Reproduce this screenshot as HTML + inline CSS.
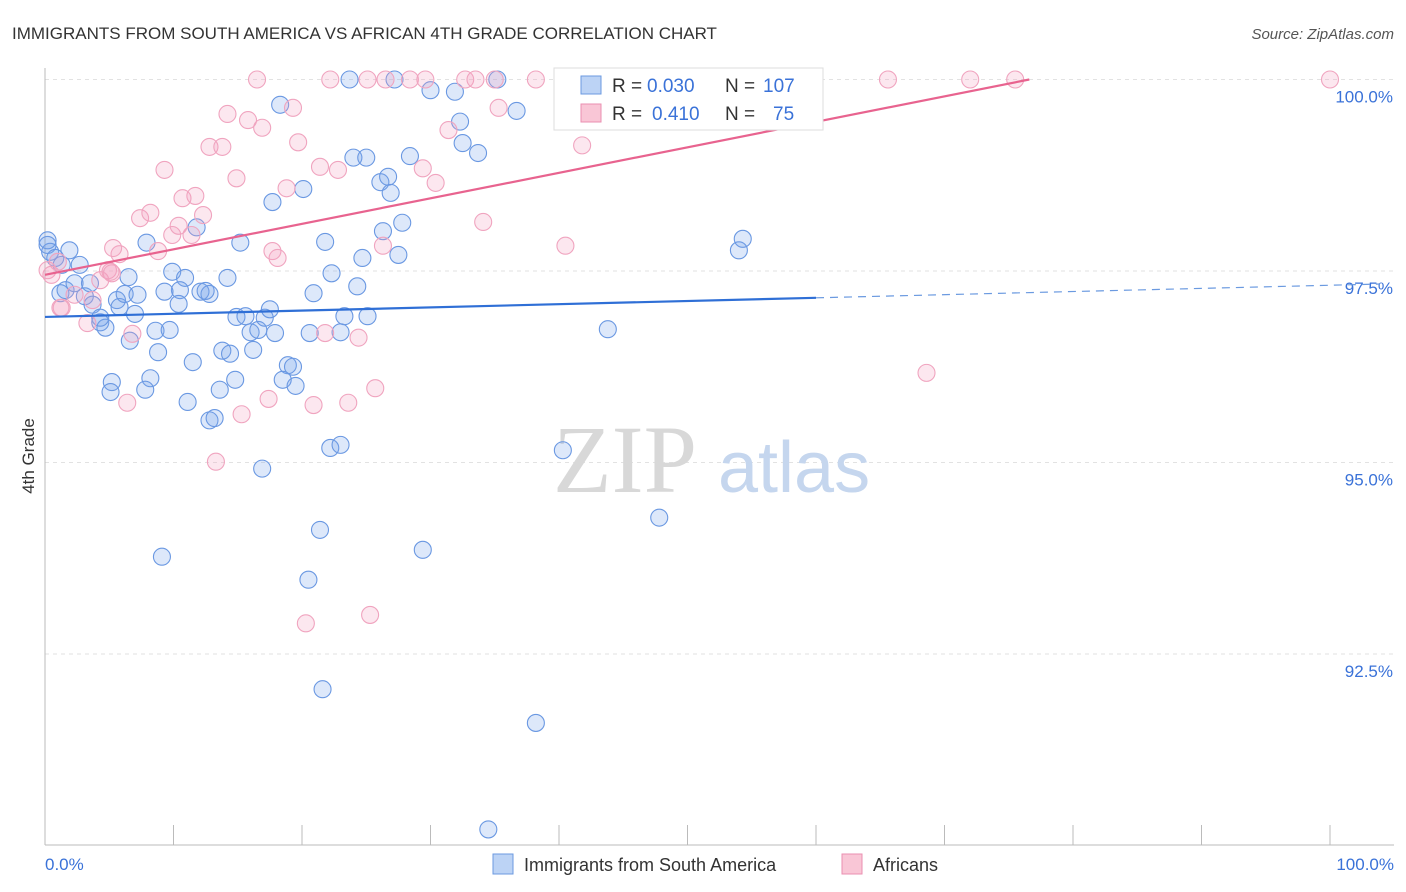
<!DOCTYPE html>
<html><head><meta charset="utf-8"><style>
body{margin:0;background:#fff;font-family:"Liberation Sans",sans-serif;}
svg{display:block}
</style></head><body>
<svg width="1406" height="892">
<text x="12" y="39" font-size="17" fill="#333">IMMIGRANTS FROM SOUTH AMERICA VS AFRICAN 4TH GRADE CORRELATION CHART</text>
<text x="1394" y="39" font-size="15" fill="#555" font-style="italic" text-anchor="end">Source: ZipAtlas.com</text>
<g id="grid"></g>
<g>
<text x="553" y="492" font-size="96" font-family="Liberation Serif,serif" fill="#d8d8d8">ZIP</text>
<text x="718" y="492" font-size="72" fill="#c5d6ee">atlas</text>
</g>
<line x1="45" y1="68" x2="45" y2="845" stroke="#bbb"/>
<line x1="45" y1="845" x2="1394" y2="845" stroke="#bbb"/>
<g id="ticks"></g>
<g id="pts"></g>
<g id="trend"></g>
<text transform="translate(34,456) rotate(-90)" font-size="17" fill="#333" text-anchor="middle">4th Grade</text>
<text x="45" y="870" font-size="17" fill="#3a72d8">0.0%</text>
<text x="1394" y="870" font-size="17" fill="#3a72d8" text-anchor="end">100.0%</text>
<g>
<rect x="554" y="68" width="269" height="62" fill="#fff" stroke="#ddd"/>
<rect x="581" y="76" width="20" height="18" fill="#bcd3f5" stroke="#6b9ae0"/>
<rect x="581" y="104" width="20" height="18" fill="#f9c6d6" stroke="#ea8fb0"/>
<text x="612" y="92" font-size="19" fill="#333">R =</text>
<text x="647" y="92" font-size="19" fill="#3a72d8">0.030</text>
<text x="725" y="92" font-size="19" fill="#333">N =</text>
<text x="763" y="92" font-size="19" fill="#3a72d8">107</text>
<text x="612" y="120" font-size="19" fill="#333">R =</text>
<text x="652" y="120" font-size="19" fill="#3a72d8">0.410</text>
<text x="725" y="120" font-size="19" fill="#333">N =</text>
<text x="773" y="120" font-size="19" fill="#3a72d8">75</text>
</g>
<g>
<rect x="493" y="854" width="20" height="20" fill="#bcd3f5" stroke="#6b9ae0"/>
<text x="524" y="871" font-size="18" fill="#333">Immigrants from South America</text>
</g>
<g>
<rect x="842" y="854" width="20" height="20" fill="#f9c6d6" stroke="#ea8fb0"/>
<text x="873" y="871" font-size="18" fill="#333">Africans</text>
</g>
</svg>
<script>
const yTicks=[100,97.5,95,92.5];
const yTickLabels=["100.0%","97.5%","95.0%","92.5%"];
const xTickVals=[0,10,20,30,40,50,60,70,80,90,100];
const blueX=[0.2,0.4,0.8,1.3,1.9,2.7,1.2,1.6,2.3,3.1,3.5,3.7,4.3,4.7,4.3,5.6,5.8,6.5,6.2,7.2,7.0,7.9,8.6,8.8,6.6,9.7,9.9,10.9,10.5,9.3,10.4,12.1,12.8,12.5,14.2,15.2,14.9,16.0,15.6,16.6,17.1,17.5,17.9,13.8,14.4,16.2,11.5,13.6,14.8,18.9,19.3,18.5,19.5,5.2,5.1,8.2,7.8,11.1,12.8,13.2,16.9,22.2,23.0,9.1,21.4,20.5,21.6,29.4,38.2,34.5,40.3,47.8,43.8,54.0,54.3,18.3,23.7,27.2,30.0,31.9,35.2,36.7,32.3,32.5,33.7,28.4,24.0,25.0,26.1,26.7,26.9,20.1,17.7,11.8,21.8,26.3,27.8,27.5,24.7,22.3,24.3,20.9,20.6,23.0,23.3,25.1,0.2];
const blueY=[97.84,97.75,97.67,97.58,97.77,97.58,97.21,97.25,97.34,97.17,97.34,97.06,96.83,96.76,96.89,97.12,97.03,97.42,97.20,97.19,96.94,97.87,96.72,96.44,96.59,96.73,97.49,97.41,97.25,97.23,97.07,97.23,97.20,97.24,97.41,97.87,96.90,96.70,96.91,96.73,96.89,97.00,96.69,96.46,96.42,96.47,96.31,95.95,96.08,96.27,96.25,96.08,96.00,96.05,95.92,96.10,95.95,95.79,95.55,95.58,94.92,95.19,95.23,93.77,94.12,93.47,92.04,93.86,91.60,90.21,95.16,94.28,96.74,97.77,97.92,99.67,100.0,100.0,99.86,99.84,100.0,99.59,99.45,99.17,99.04,99.00,98.98,98.98,98.66,98.73,98.52,98.57,98.40,98.07,97.88,98.02,98.13,97.71,97.67,97.47,97.30,97.21,96.69,96.70,96.91,96.91,97.90];
const pinkX=[0.2,0.5,1.0,1.3,2.3,3.3,3.7,4.3,4.9,5.2,5.8,6.8,6.4,7.4,8.2,8.8,9.3,9.9,10.7,10.4,11.4,11.7,12.3,12.8,13.8,13.3,14.2,14.9,15.3,15.8,16.9,16.5,17.4,17.7,18.1,18.8,19.3,19.7,20.3,20.9,21.4,21.8,22.2,22.8,23.6,24.4,25.1,25.3,25.7,26.3,26.5,28.4,29.4,29.6,30.4,31.4,32.7,33.5,34.1,35.3,35.0,38.2,40.5,41.8,52.3,59.0,65.6,68.6,72.0,75.5,100.0,1.2,5.1,5.3];
const pinkY=[97.51,97.45,97.62,97.02,97.19,96.82,97.12,97.38,97.51,97.47,97.72,96.68,95.78,98.19,98.26,97.76,98.82,97.97,98.45,98.09,97.97,98.48,98.23,99.12,99.12,95.01,99.55,98.71,95.63,99.47,99.37,100.0,95.83,97.76,97.67,98.58,99.63,99.18,92.90,95.75,98.86,96.69,100.0,98.82,95.78,96.63,100.0,93.01,95.97,97.83,100.0,100.0,98.84,100.0,98.65,99.34,100.0,100.0,98.14,99.63,100.0,100.0,97.83,99.14,100.0,100.0,100.0,96.17,100.0,100.0,100.0,97.02,97.49,97.80];
const blueTrendX=[0,60,100];
const blueTrendY=[96.90,97.15,97.33];
const pinkTrendX=[0,76.6];
const pinkTrendY=[97.45,100.0];

const NS="http://www.w3.org/2000/svg";
const sx=v=>45+v*12.85;
const sy=v=>79.5+(100-v)*76.6;
function mk(tag,attrs,parent){const e=document.createElementNS(NS,tag);for(const k in attrs)e.setAttribute(k,attrs[k]);document.getElementById(parent).appendChild(e);return e;}
yTicks.forEach((t,i)=>{
  const l=mk('line',{x1:45,x2:1394,y1:sy(t),y2:sy(t),stroke:'#e2e2e2','stroke-dasharray':'4,4'},'grid');
  
  
  const tx=mk('text',{x:1393,y:sy(t)+23,'font-size':17,fill:'#3a72d8','text-anchor':'end'},'grid');
  tx.textContent=yTickLabels[i];
  
  
});
xTickVals.forEach(v=>{
  const l=mk('line',{x1:sx(v),x2:sx(v),y1:825,y2:845,stroke:'#bbb'},'ticks');
  
  
});
blueX.forEach((x,i)=>{
  const c=mk('circle',{cx:sx(x),cy:sy(blueY[i]),r:8.5,fill:'rgba(120,165,235,0.25)',stroke:'#6a98e2','stroke-width':1.1},'pts');
  
  
});
pinkX.forEach((x,i)=>{
  const c=mk('circle',{cx:sx(x),cy:sy(pinkY[i]),r:8.5,fill:'rgba(245,160,190,0.25)',stroke:'#f0a4bf','stroke-width':1.1},'pts');
  
  
});
const b1=mk('line',{x1:sx(blueTrendX[0]),y1:sy(blueTrendY[0]),x2:sx(blueTrendX[1]),y2:sy(blueTrendY[1]),stroke:'#2f6fd6','stroke-width':2.2},'trend');


const b2=mk('line',{x1:sx(blueTrendX[1]),y1:sy(blueTrendY[1]),x2:sx(blueTrendX[2])+50,y2:sy(blueTrendY[2]),stroke:'#6b9ae0','stroke-width':1.2,'stroke-dasharray':'8,6'},'trend');


const p1=mk('line',{x1:sx(pinkTrendX[0]),y1:sy(pinkTrendY[0]),x2:sx(pinkTrendX[1]),y2:sy(pinkTrendY[1]),stroke:'#e8638f','stroke-width':2.2},'trend');


</script>
</body></html>
